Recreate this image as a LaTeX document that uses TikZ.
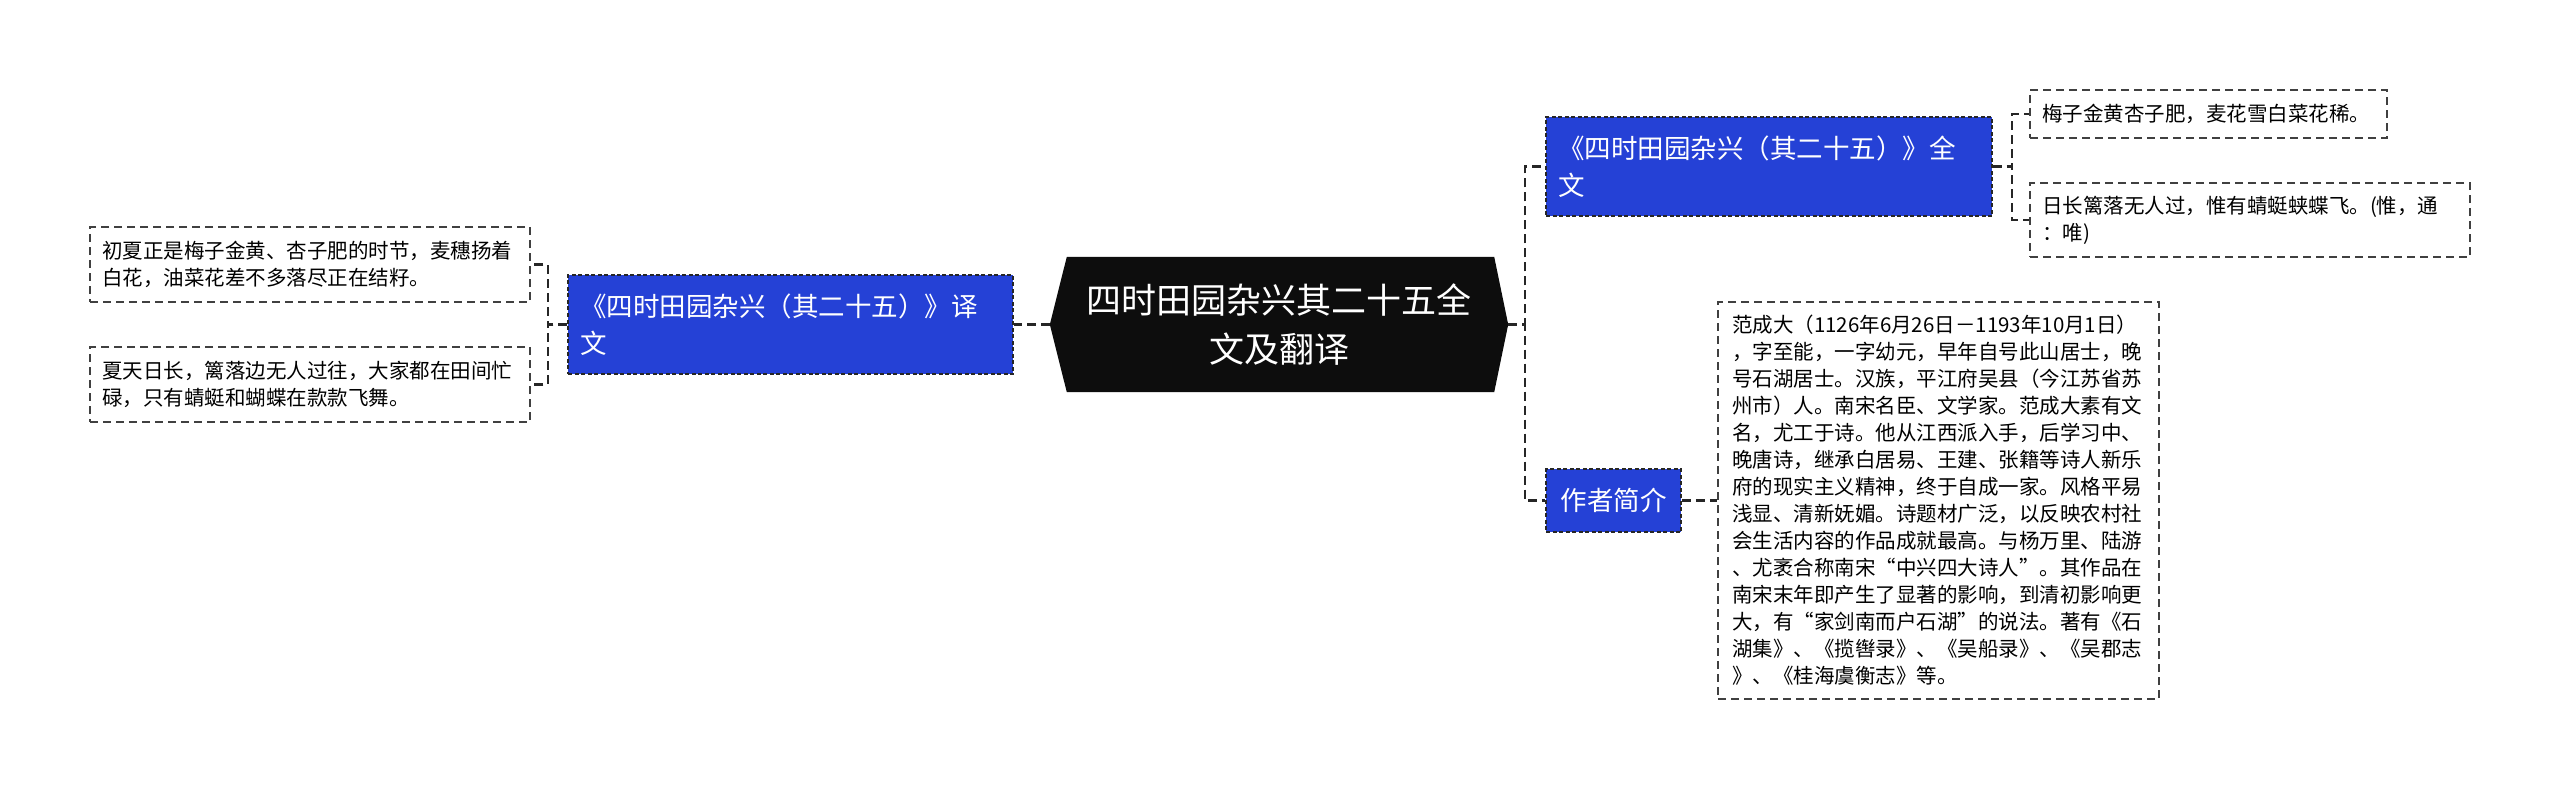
\documentclass[tikz,border=0pt]{standalone}
\usepackage{fontspec}
\setmainfont{Noto Sans CJK SC}
\usetikzlibrary{backgrounds}
\definecolor{nodeblue}{HTML}{2541D6}
\definecolor{darkbox}{HTML}{0D0D0D}
\begin{document}
\begin{tikzpicture}[x=1pt,y=-1pt,
  leaf/.style={draw=black!75, line width=1.3pt, dash pattern=on 8pt off 5pt, fill=white,
    font=\fontsize{20.5}{27}\selectfont, align=left, inner xsep=12pt, inner ysep=0pt},
  bluebox/.style={fill=nodeblue, draw=black!85, line width=1.5pt, dash pattern=on 4pt off 2.5pt,
    text=white, font=\fontsize{26.5}{37}\selectfont, align=left, inner xsep=12pt, inner ysep=0pt},
  conn/.style={draw=black!85, line width=2.5pt, dash pattern=on 9pt off 5pt}]
\useasboundingbox (0,0) rectangle (2560,789);

% central node
\node[text=white, font=\fontsize{35}{49}\selectfont, align=center, minimum width=458pt,
  minimum height=135pt, inner sep=0pt] (c) at (1279,324.5) {四时田园杂兴其二十五全\\文及翻译};
\begin{scope}[on background layer]
\fill[white] (0,0) rectangle (2560,789);
\fill[darkbox] (c.west) -- ([xshift=17pt]c.north west) -- ([xshift=-14pt]c.north east)
  -- (c.east) -- ([xshift=-14pt]c.south east) -- ([xshift=17pt]c.south west) -- cycle;
\end{scope}

% left branch
\node[bluebox, text width=421pt, minimum height=99pt] (tr) at (790.5,324.5)
  {《四时田园杂兴（其二十五）》译\\文};
\node[leaf, text width=416pt, minimum height=75pt] (l1) at (310,264.5)
  {初夏正是梅子金黄、杏子肥的时节，麦穗扬着\\白花，油菜花差不多落尽正在结籽。};
\node[leaf, text width=416pt, minimum height=75pt] (l2) at (310,384.5)
  {夏天日长，篱落边无人过往，大家都在田间忙\\碌，只有蜻蜓和蝴蝶在款款飞舞。};

% right branch
\node[bluebox, text width=422pt, minimum height=99pt] (ft) at (1769,166.5)
  {《四时田园杂兴（其二十五）》全\\文};
\node[leaf, text width=333pt, minimum height=48pt] (r1) at (2208.5,114)
  {梅子金黄杏子肥，麦花雪白菜花稀。};
\node[leaf, text width=416pt, minimum height=74pt] (r2) at (2250,220)
  {日长篱落无人过，惟有蜻蜓蛱蝶飞。(惟，通\\：唯)};

\node[bluebox, align=center, minimum width=135pt, minimum height=63pt, inner xsep=0pt] (au) at (1613.5,500.5)
  {作者简介};
\node[leaf, text width=413pt, inner xsep=14pt, minimum height=397pt] (bio) at (1938.5,500.5)
  {范成大（1126年6月26日－1193年10月1日）\\
   ，字至能，一字幼元，早年自号此山居士，晚\\
   号石湖居士。汉族，平江府吴县（今江苏省苏\\
   州市）人。南宋名臣、文学家。范成大素有文\\
   名，尤工于诗。他从江西派入手，后学习中、\\
   晚唐诗，继承白居易、王建、张籍等诗人新乐\\
   府的现实主义精神，终于自成一家。风格平易\\
   浅显、清新妩媚。诗题材广泛，以反映农村社\\
   会生活内容的作品成就最高。与杨万里、陆游\\
   、尤袤合称南宋“中兴四大诗人”。其作品在\\
   南宋末年即产生了显著的影响，到清初影响更\\
   大，有“家剑南而户石湖”的说法。著有《石\\
   湖集》、《揽辔录》、《吴船录》、《吴郡志\\
   》、《桂海虞衡志》等。};

% connectors
\draw[conn] (c.west) -- (tr.east);
\draw[conn] (tr.west) -- (548,324.5) |- (l1.east);
\draw[conn] (tr.west) -- (548,324.5) |- (l2.east);
\draw[conn] (c.east) -- (1525,324.5) |- (ft.west);
\draw[conn] (c.east) -- (1525,324.5) |- (au.west);
\draw[conn] (ft.east) -- (2012,166.5) |- (r1.west);
\draw[conn] (ft.east) -- (2012,166.5) |- (r2.west);
\draw[conn] (au.east) -- (bio.west);
\end{tikzpicture}
\end{document}
